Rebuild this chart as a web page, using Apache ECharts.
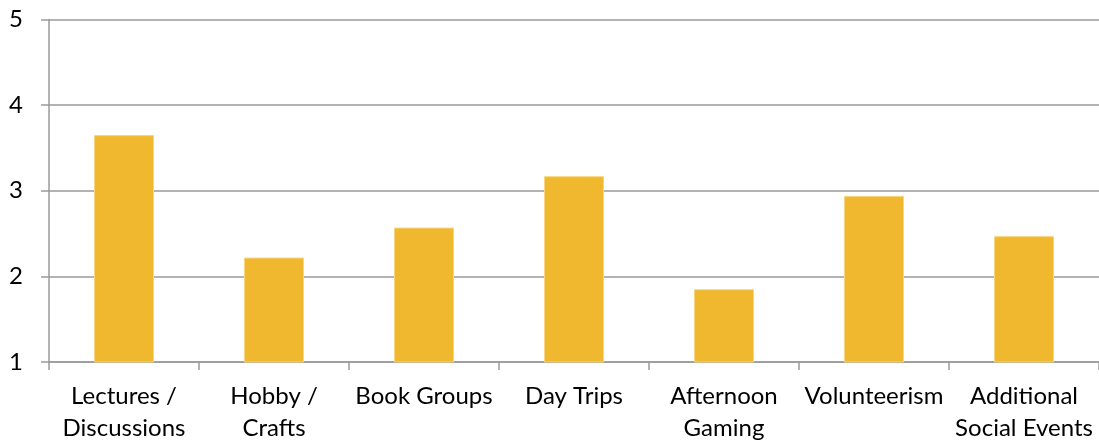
<!DOCTYPE html>
<html>
<head>
<meta charset="utf-8">
<script src="https://cdn.jsdelivr.net/npm/echarts@6/dist/echarts.min.js"></script>
<style>html,body{margin:0;padding:0;background:#fff;}#c{width:1099px;height:444px;}</style>
</head>
<body>
<div id="c"></div>
<script>
const categories = ["Lectures /\nDiscussions", "Hobby /\nCrafts", "Book Groups", "Day Trips", "Afternoon\nGaming", "Volunteerism", "Additional\nSocial Events"];
const values = [3.65, 2.22, 2.57, 3.17, 1.85, 2.94, 2.47];
const yTicks = [1, 2, 3, 4, 5];

const chart = echarts.init(document.getElementById('c'), null, {renderer: 'canvas'});
const font = 'Lato, "Open Sans", sans-serif';
chart.setOption({
  animation: false,
  grid: {left: 49, right: 0, top: 19.5, bottom: 81.5, containLabel: false},
  xAxis: {
    type: 'category',
    data: categories,
    axisLine: {show: true, lineStyle: {color: '#9a9a9a', width: 1.5}},
    axisTick: {show: true, length: 8, alignWithLabel: false, lineStyle: {color: '#9a9a9a', width: 1.5}},
    axisLabel: {color: '#000', fontSize: 24, fontFamily: font, lineHeight: 31.5, margin: 19, interval: 0}
  },
  yAxis: {
    type: 'value',
    min: yTicks[0], max: yTicks[yTicks.length - 1], interval: 1,
    axisLine: {show: true, lineStyle: {color: '#9a9a9a', width: 1.5}},
    axisTick: {show: true, length: 8, lineStyle: {color: '#9a9a9a', width: 1.5}},
    splitLine: {show: true, lineStyle: {color: '#9a9a9a', width: 1.5}},
    axisLabel: {color: '#000', fontSize: 24, fontFamily: font, margin: 26}
  },
  series: [{
    type: 'bar',
    data: values,
    barWidth: '40%',
    itemStyle: {color: '#F0B82F', borderColor: '#F8D57E', borderWidth: 1}
  }]
});
</script>
</body>
</html>
